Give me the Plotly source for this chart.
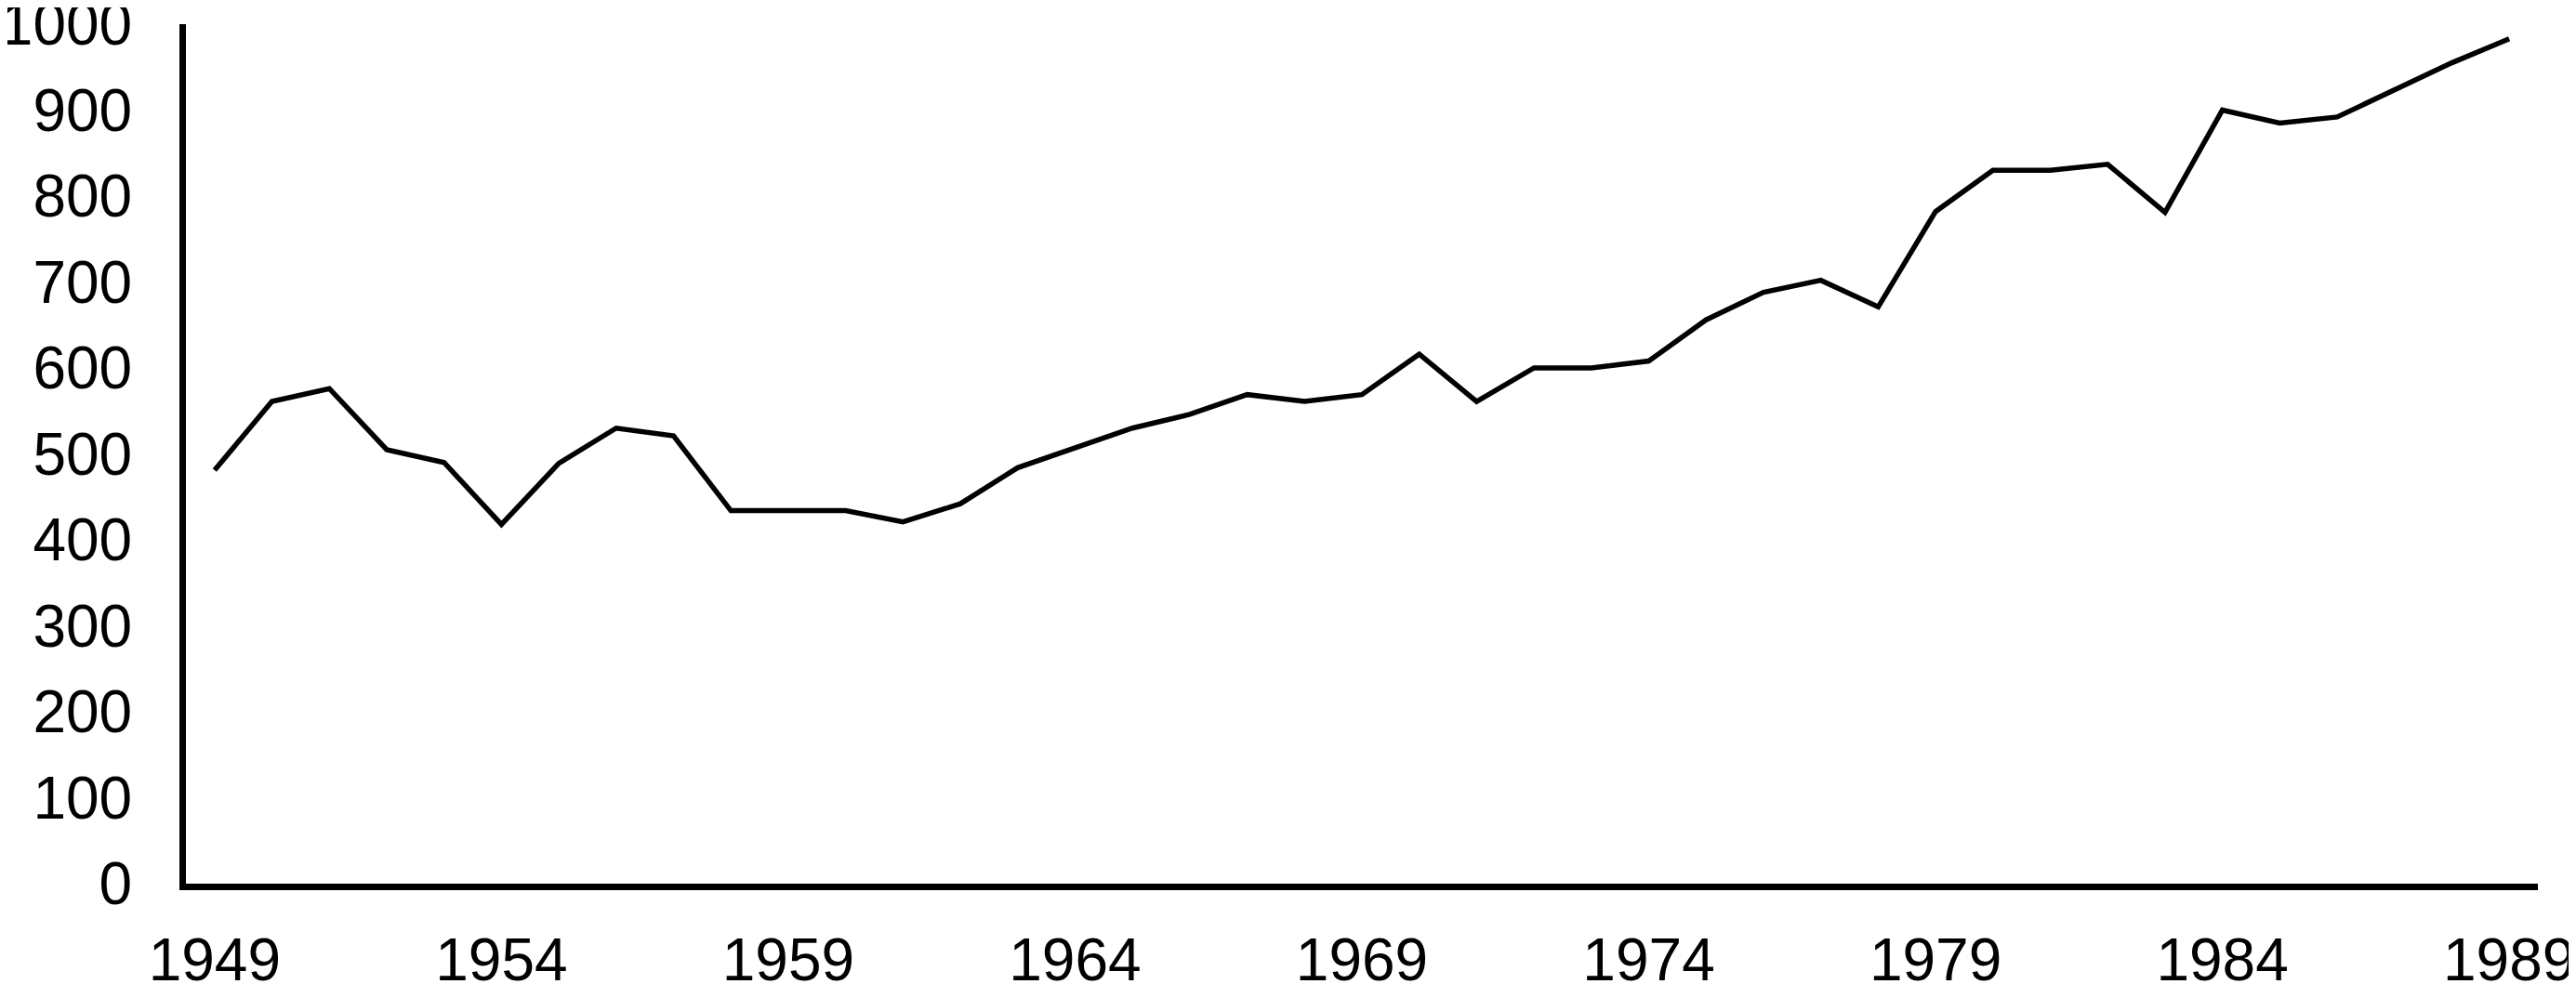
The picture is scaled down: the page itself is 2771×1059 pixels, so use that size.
import plotly.graph_objects as go

years = list(range(1949, 1990))
values = [481, 561, 576, 505, 490, 418, 489, 530, 521, 434,
          434, 434, 421, 442, 484, 507, 530, 546, 569, 561,
          569, 616, 561, 600, 600, 608, 656, 688, 702, 671,
          782, 830, 830, 837, 781, 900, 885, 892, 924, 955, 983]
x_tick_labels = [str(y) for y in range(1949, 1990, 5)]
y_tick_values = list(range(0, 1001, 100))

fig = go.Figure()
fig.add_trace(go.Scatter(x=years, y=values, mode="lines",
                         line=dict(color="black", width=5.5),
                         showlegend=False, hoverinfo="skip", cliponaxis=False))

font = dict(family="Liberation Sans, Arial, sans-serif", size=64, color="black")
# page body has a default margin, so the figure is offset slightly
fig.update_layout(
    width=2763, height=1051,
    margin=dict(l=192, r=41, t=18, b=108, autoexpand=False),
    paper_bgcolor="white", plot_bgcolor="white",
    font=font,
    xaxis=dict(range=[1948.5, 1989.5], tickvals=[int(t) for t in x_tick_labels],
               ticktext=x_tick_labels, showgrid=False, zeroline=False,
               showline=True, linecolor="black", linewidth=7, ticks="",
               ticklabelstandoff=20, tickfont=font, automargin=False,
               ticklabeloverflow="allow"),
    yaxis=dict(range=[0, 1000], tickvals=y_tick_values, showgrid=False,
               zeroline=False, showline=True, linecolor="black", linewidth=7,
               ticks="", ticklabelstandoff=38, tickfont=font, automargin=False,
               ticklabeloverflow="allow"),
)
fig.write_html("out.html")
